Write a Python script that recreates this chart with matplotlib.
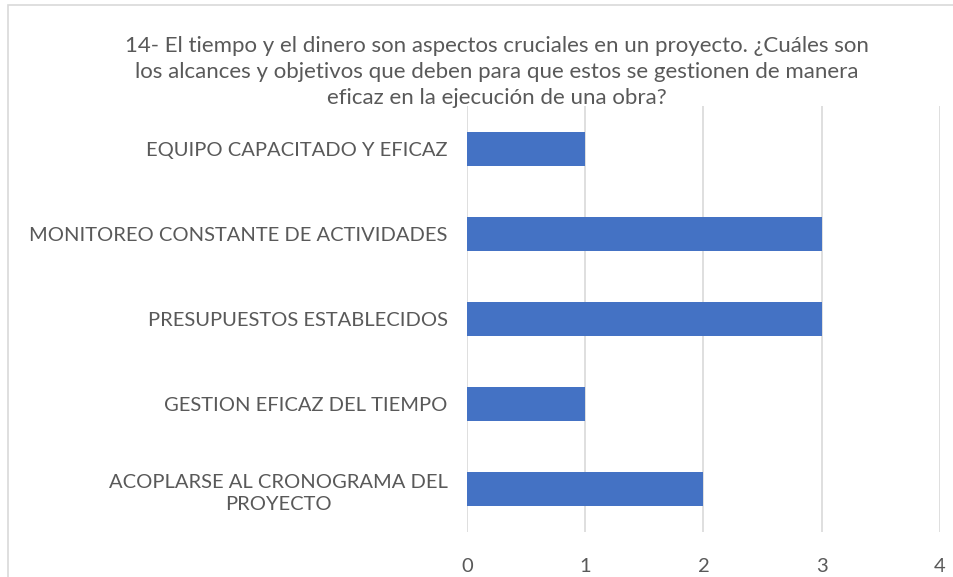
import matplotlib
matplotlib.use("Agg")
import matplotlib.pyplot as plt
from matplotlib.patches import Rectangle

categories = ["EQUIPO CAPACITADO Y EFICAZ",
              "MONITOREO CONSTANTE DE ACTIVIDADES",
              "PRESUPUESTOS ESTABLECIDOS",
              "GESTION EFICAZ DEL TIEMPO",
              "ACOPLARSE AL CRONOGRAMA DEL\nPROYECTO"]
values = [1, 3, 3, 1, 2]
xticks = [0, 1, 2, 3, 4]
title = ("14- El tiempo y el dinero son aspectos cruciales en un proyecto. ¿Cuáles son\n"
         "los alcances y objetivos que deben para que estos se gestionen de manera\n"
         "eficaz en la ejecución de una obra?")

plt.rcParams['font.family'] = ['Lato', 'DejaVu Sans']
txt = '#595959'

fig = plt.figure(figsize=(9.54, 5.77), dpi=100)
fig.patches.append(Rectangle((8/954, -0.1), 1.2, (577-5)/577 + 0.1,
                             transform=fig.transFigure, fill=False,
                             edgecolor='#D9D9D9', linewidth=1.2))
ax = fig.add_axes([467/954, (577-532)/577, (940-467)/954, (532-106)/577])

y = list(range(len(categories)))[::-1]
ax.barh(y, values, height=0.4, color='#4472C4', zorder=3)
ax.set_xlim(0, 4)
ax.set_ylim(-0.5, len(categories) - 0.5)
ax.set_xticks(xticks)
ax.set_xticklabels([str(t) for t in xticks])
ax.set_yticks(y)
ax.set_yticklabels(categories, ha='right', multialignment='center', linespacing=1.4)
ax.tick_params(axis='y', length=0, pad=14, labelsize=14.5, labelcolor=txt)
ax.tick_params(axis='x', length=0, pad=19, labelsize=14.5, labelcolor=txt)
ax.grid(axis='x', color='#D9D9D9', linewidth=1.2, zorder=0)
for s in ax.spines.values():
    s.set_visible(False)

fig.text(497/954, 1 - 72/577, title, ha='center', va='center', fontsize=16,
         color=txt, linespacing=1.35)

fig.savefig('out.png', dpi=100)
